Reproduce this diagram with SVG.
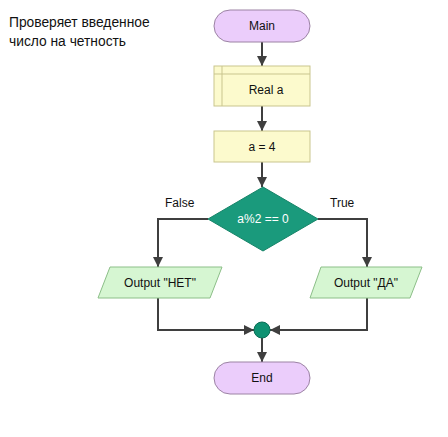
<svg xmlns="http://www.w3.org/2000/svg" width="448" height="437" viewBox="0 0 448 437">
<style>
.t{font-family:"Liberation Sans",Arial,sans-serif;font-size:12px;fill:#111;text-anchor:middle;dominant-baseline:central}
.term{fill:#ebcdfb;stroke:#9c83a4;stroke-width:1}
.proc{fill:#fcfacd;stroke:#c9c58e;stroke-width:1}
.io{fill:#d6f6d2;stroke:#8cbf88;stroke-width:1}
.c{fill:none;stroke:#3f3f3f;stroke-width:2}
.lbl{font-family:"Liberation Sans",Arial,sans-serif;font-size:12px;fill:#111}
.cm{font-family:"Liberation Sans",Arial,sans-serif;font-size:13.8px;fill:#111}
</style>
<defs>
<marker id="ah" viewBox="0 0 10 10" refX="10" refY="5" markerWidth="5" markerHeight="5" orient="auto" markerUnits="strokeWidth">
<path d="M0,0 L10,5 L0,10 z" fill="#3f3f3f"/>
</marker>
</defs>
<rect width="448" height="437" fill="#fff"/>
<g id="comment">
<text class="cm" x="9" y="27">Проверяет введенное</text>
<text class="cm" x="9" y="46">число на четность</text>
</g>
<g id="connectors">
<line class="c" x1="262" y1="42" x2="262" y2="66" marker-end="url(#ah)"/>
<line class="c" x1="262" y1="106" x2="262" y2="131" marker-end="url(#ah)"/>
<line class="c" x1="262" y1="162" x2="262" y2="187" marker-end="url(#ah)"/>
<polyline class="c" points="208,219 158,219 158,267" marker-end="url(#ah)"/>
<polyline class="c" points="318,219 367,219 367,267" marker-end="url(#ah)"/>
<polyline class="c" points="158,298 158,330 254,330" marker-end="url(#ah)"/>
<polyline class="c" points="367,298 367,330 270,330" marker-end="url(#ah)"/>
<line class="c" x1="262" y1="338" x2="262" y2="362" marker-end="url(#ah)"/>
<text class="lbl" x="165" y="207">False</text>
<text class="lbl" x="330" y="207">True</text>
</g>
<g id="main">
<rect class="term" x="214" y="10" width="96" height="32" rx="16"/>
<text class="t" x="262" y="26">Main</text>
</g>
<g id="declare">
<rect class="proc" x="214" y="66" width="96" height="40"/>
<line x1="222" y1="66" x2="222" y2="106" stroke="#c9c58e"/>
<line x1="214" y1="74" x2="310" y2="74" stroke="#c9c58e"/>
<text class="t" x="266" y="90">Real a</text>
</g>
<g id="assign">
<rect class="proc" x="214" y="131" width="96" height="31"/>
<text class="t" x="262" y="146.5">a = 4</text>
</g>
<g id="decision">
<polygon points="263,187 318,219 263,251 208,219" fill="#1a9a7c" stroke="#168468"/>
<text class="t" x="263" y="219" style="fill:#fff">a%2 == 0</text>
</g>
<g id="outNo">
<polygon class="io" points="110,267 222,267 210,298 98,298"/>
<text class="t" x="160" y="282.5">Output "НЕТ"</text>
</g>
<g id="outYes">
<polygon class="io" points="321,267 422,267 410,298 310,298"/>
<text class="t" x="366" y="282.5">Output "ДА"</text>
</g>
<g id="merge">
<circle cx="262" cy="330" r="8" fill="#0e9272" stroke="#0a6e56"/>
</g>
<g id="end">
<rect class="term" x="214" y="362" width="96" height="32" rx="16"/>
<text class="t" x="262" y="378">End</text>
</g>
</svg>
